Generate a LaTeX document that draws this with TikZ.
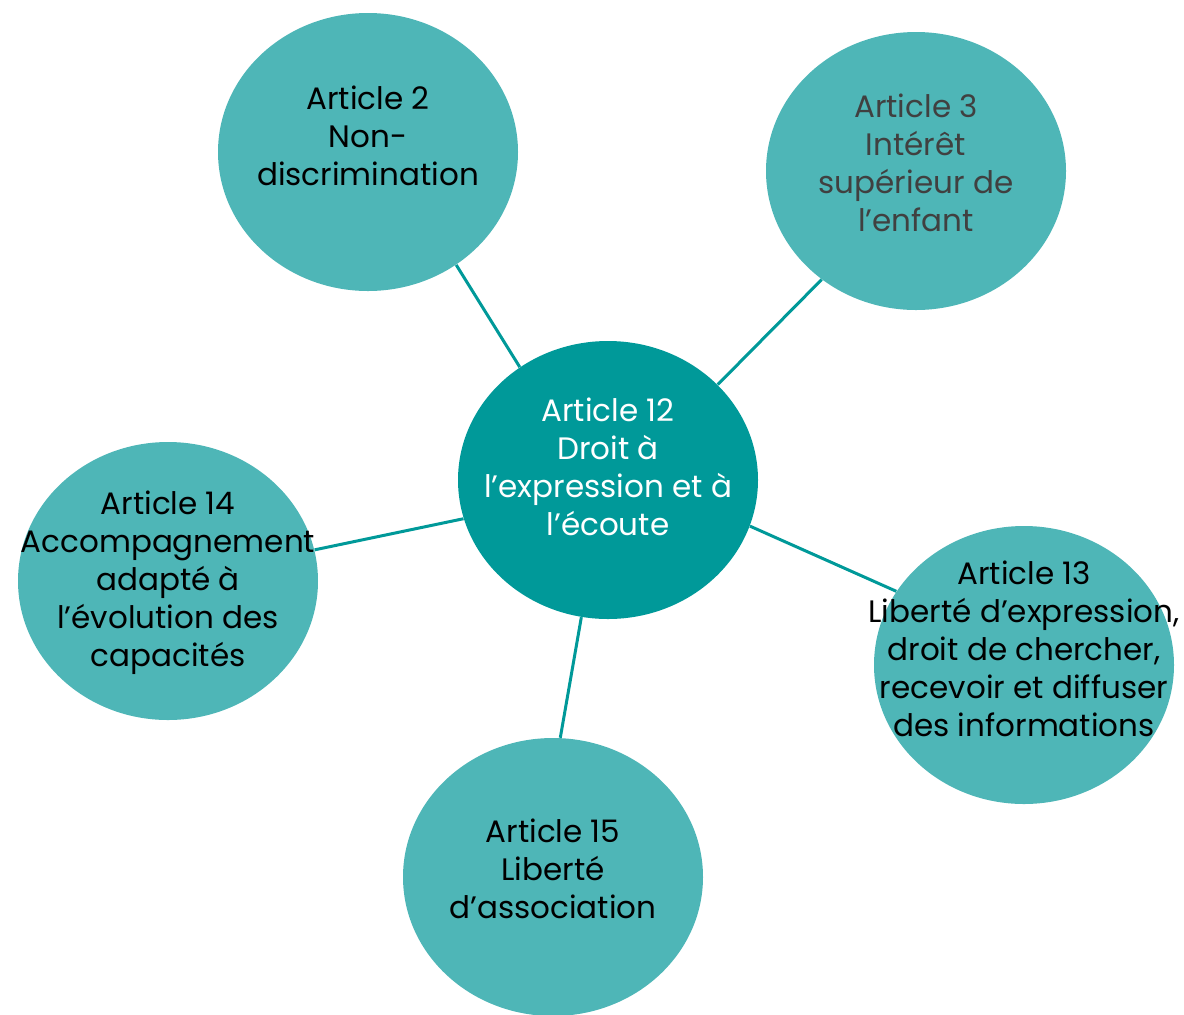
\documentclass[tikz,border=0pt]{standalone}
\usepackage{fontspec}
\setmainfont{Poppins}
\usetikzlibrary{shapes.geometric}
\definecolor{tealclair}{HTML}{4EB6B7}
\definecolor{tealfonce}{HTML}{009999}
\definecolor{grisfonce}{HTML}{404040}
\begin{document}
\begin{tikzpicture}[x=0.5pt,y=-0.5pt]

      \useasboundingbox (0,0) rectangle (1184,1014);

      \begin{scope}[every node/.style={ellipse, fill=tealclair, minimum width=150pt,
          minimum height=139pt, inner sep=0pt},
          every label/.style={fill=none, minimum width=0pt, minimum height=0pt,
          rectangle, align=center, font=\fontsize{15.5}{19}\selectfont}]
        \node[fill=tealfonce, label={[text=white, yshift=6.5pt]center:{Article 12\\Droit à\\l’expression et à\\l’écoute}}] (art12) at (608,480) {};
        \node[label={[yshift=8pt]center:{Article 2\\Non-\\discrimination}}] (art2) at (368,152) {};
        \node[label={[text=grisfonce, yshift=4pt]center:{Article 3\\Intérêt\\supérieur de\\l’enfant}}] (art3) at (916,171) {};
        \node[label={[yshift=-1pt]center:{Article 14\\Accompagnement\\adapté à\\l’évolution des\\capacités}}] (art14) at (168,581) {};
        \node[label={[yshift=8pt]center:{Article 13\\Liberté d’expression,\\droit de chercher,\\recevoir et diffuser\\des informations}}] (art13) at (1024,665) {};
        \node[label={[yshift=4pt]center:{Article 15\\Liberté\\d’association}}] (art15) at (553,877) {};
      \end{scope}

      \begin{scope}[every edge/.style={draw, tealfonce, line width=1.5pt}]
        \path (art12.128) edge (art2.-52);
        \path (art12.41)  edge (art3.229);
        \path (art12.-18) edge (art13.150);
        \path (art12.259) edge (art15.87);
        \path (art12.195) edge (art14.12);
      \end{scope}

    \end{tikzpicture}
\end{document}
